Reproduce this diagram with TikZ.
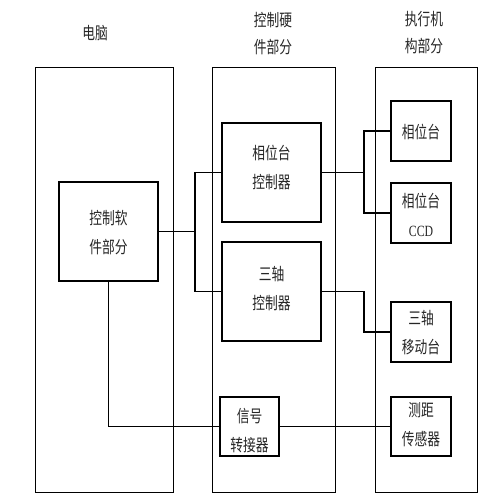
\documentclass[tikz,border=0pt]{standalone}
\usepackage{fontspec}
\setmainfont{Liberation Serif}
\newfontfamily\cjk{Noto Sans CJK SC}[Scale=1]
\newcommand\vs[1]{\scalebox{0.98}[1.3]{#1}}
\begin{document}
\begin{tikzpicture}[x=1pt,y=-1pt,
  lbl/.style={font={\cjk\fontsize{13}{27}\selectfont}, align=center, inner sep=0pt, text=black!85},
  txt/.style={font={\cjk\fontsize{13}{29}\selectfont}, align=center, inner sep=0pt, text=black!85},
  frame/.style={draw, line width=1.1pt, inner sep=0pt, anchor=north west},
  inbox/.style={draw, line width=1.1pt, inner sep=0pt},
  wire/.style={draw, line width=1.1pt}]
\useasboundingbox (0,0) rectangle (500,501);
\fill[white] (0,0) rectangle (500,501);
% titles
\node[lbl] (t1) at (95,33) {\vs{电脑}};
\node[lbl] (t2) at (273,33.5) {\vs{控制硬}\\\vs{件部分}};
\node[lbl] (t3) at (424,32.5) {\vs{执行机}\\\vs{构部分}};
% frames
\node[frame, minimum width=138pt, minimum height=425pt] (pc) at (35,67) {};
\node[frame, minimum width=123pt, minimum height=425pt] (hw) at (212,67) {};
\node[frame, minimum width=102pt, minimum height=425pt] (ac) at (375,67) {};
% inner boxes
\node[inbox, minimum width=99pt, minimum height=99pt] (sw) at (108.5,231.5) {};
\node[inbox, minimum width=99pt, minimum height=99pt] (pcc) at (271.5,172.5) {};
\node[inbox, minimum width=99pt, minimum height=99pt] (tcc) at (271.5,291.5) {};
\node[inbox, minimum width=59pt, minimum height=59pt] (sig) at (249.5,426.5) {};
\node[inbox, minimum width=60pt, minimum height=60pt] (ps) at (421,131) {};
\node[inbox, minimum width=60pt, minimum height=60pt] (ccd) at (421,213) {};
\node[inbox, minimum width=60pt, minimum height=60pt] (tm) at (421,332) {};
\node[inbox, minimum width=60pt, minimum height=59pt] (ds) at (421,426.5) {};
% box texts
\node[txt] (swt) at (108.5,233) {\vs{控制软}\\\vs{件部分}};
\node[txt] (pcct) at (271.5,167.5) {\vs{相位台}\\\vs{控制器}};
\node[txt] (tcct) at (271.5,289) {\vs{三轴}\\\vs{控制器}};
\node[txt] (sigt) at (249.5,431) {\vs{信号}\\\vs{转接器}};
\node[txt] (pst) at (421,132) {\vs{相位台}};
\node[txt] (ccdt) at (421,214.5) {\vs{相位台}\\{\fontspec{Liberation Serif}\fontsize{12}{12}\selectfont\vs{CCD}}};
\node[txt] (tmt) at (421,332.5) {\vs{三轴}\\\vs{移动台}};
\node[txt] (dst) at (421,425) {\vs{测距}\\\vs{传感器}};
% junctions
\coordinate (j1) at (195,231.5);
\coordinate (j2) at (364,172.5);
\coordinate (j3) at (364,291.5);
% connectors
\draw[wire] (sw.east) -- (j1);
\draw[wire] (pcc.west) -| (j1) |- (tcc.west);
\draw[wire] (pcc.east) -- (j2);
\draw[wire] (ps.west) -| (j2) |- (ccd.west);
\draw[wire] (tcc.east) -- (j3) |- (tm.west);
\draw[wire] (sw.south) |- (sig.west);
\draw[wire] (sig.east) -- (ds.west);
\end{tikzpicture}
\end{document}
